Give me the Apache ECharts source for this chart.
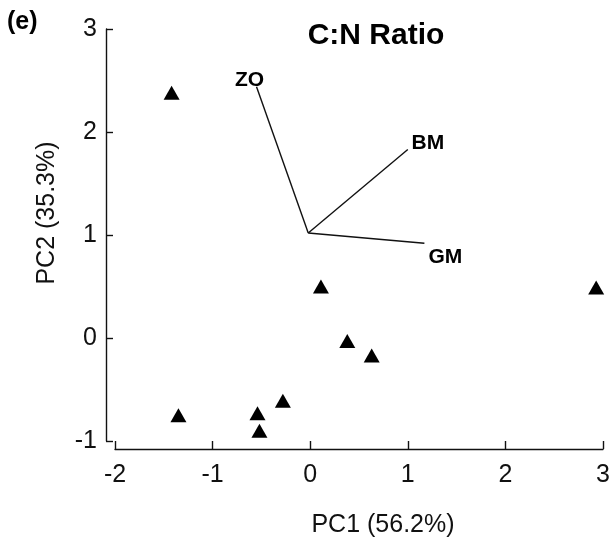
<!DOCTYPE html>
<html>
<head>
<meta charset="utf-8">
<script src="https://cdn.jsdelivr.net/npm/echarts@6/dist/echarts.min.js"></script>
<style>
  html, body { margin: 0; padding: 0; background: #fff; }
  #chart { width: 614px; height: 539px; }
</style>
</head>
<body>
<div id="chart"></div>
<script>
// PCA scores (PC1, PC2) for the samples
const sampleScores = [
  [-1.42, 2.38],
  [0.11, 0.50],
  [2.93, 0.49],
  [0.38, -0.03],
  [0.63, -0.17],
  [-1.35, -0.75],
  [-0.54, -0.73],
  [-0.52, -0.90],
  [-0.28, -0.61]
];

// Loading vectors: shared origin and the tip of each variable
const vectorOrigin = [-0.02, 1.02];
const vectorNames = ['ZO', 'BM', 'GM'];
const vectorTips = [
  [-0.55, 2.44],
  [1.00, 1.83],
  [1.17, 0.92]
];

// Axis tick values
const xTicks = [-2, -1, 0, 1, 2, 3];
const yTicks = [-1, 0, 1, 2, 3];

const FONT = "'Liberation Sans', Arial, sans-serif";
const INK = '#111';

// Label placement for each vector tip
const tipLabelOffsets = {
  ZO: [-7, -6],
  BM: [20, -6],
  GM: [21, 14]
};

const vectorSeries = vectorNames.map((name, i) => ({
  type: 'line',
  name: name,
  silent: true,
  symbol: 'none',
  lineStyle: { color: INK, width: 1.4 },
  data: [vectorOrigin, vectorTips[i]],
  z: 2
}));

// Names drawn at the vector tips
const tipLabelSeries = {
  type: 'scatter',
  name: 'Variables',
  silent: true,
  symbolSize: 0,
  itemStyle: { color: '#000', opacity: 1 },
  data: vectorNames.map((name, i) => ({
    name: name,
    value: vectorTips[i],
    label: { offset: tipLabelOffsets[name] }
  })),
  label: {
    show: true,
    position: 'inside',
    formatter: (p) => p.name,
    color: '#000',
    opacity: 1,
    textBorderWidth: 0,
    fontFamily: FONT,
    fontWeight: 'bold',
    fontSize: 21
  },
  z: 4
};

const chart = echarts.init(document.getElementById('chart'), null, { renderer: 'canvas' });

chart.setOption({
  backgroundColor: '#fff',
  animation: false,
  grid: { left: 115, right: 11, top: 29, bottom: 98, containLabel: false },
  xAxis: {
    type: 'value',
    min: xTicks[0],
    max: xTicks[xTicks.length - 1],
    interval: 1,
    offset: 8,
    axisLine: { show: true, onZero: false, lineStyle: { color: INK, width: 1.4 } },
    axisTick: { show: true, inside: true, length: 8, lineStyle: { color: INK, width: 1.4 } },
    axisLabel: { color: INK, fontFamily: FONT, fontSize: 25, margin: 14 },
    splitLine: { show: false }
  },
  yAxis: {
    type: 'value',
    min: yTicks[0],
    max: yTicks[yTicks.length - 1],
    interval: 1,
    offset: 9,
    axisLine: { show: true, onZero: false, lineStyle: { color: INK, width: 1.4 } },
    axisTick: { show: true, inside: true, length: 7, lineStyle: { color: INK, width: 1.4 } },
    axisLabel: { color: INK, fontFamily: FONT, fontSize: 25, margin: 9, padding: [6, 0, 0, 0] },
    splitLine: { show: false }
  },
  graphic: [
    {
      type: 'text', left: 7, top: 10,
      style: { text: '(e)', fill: '#000', font: "bold 25px " + FONT }
    },
    {
      type: 'text', x: 376, y: 36,
      style: { text: 'C:N Ratio', fill: '#000', font: "bold 30px " + FONT, align: 'center', verticalAlign: 'middle' }
    },
    {
      type: 'text', x: 383, y: 525,
      style: { text: 'PC1 (56.2%)', fill: INK, font: "25px " + FONT, align: 'center', verticalAlign: 'middle' }
    },
    {
      type: 'text', x: 47, y: 213, rotation: Math.PI / 2,
      style: { text: 'PC2 (35.3%)', fill: INK, font: "25px " + FONT, align: 'center', verticalAlign: 'middle' }
    }
  ],
  series: [
    ...vectorSeries,
    tipLabelSeries,
    {
      type: 'scatter',
      name: 'Samples',
      symbol: 'triangle',
      symbolSize: [16, 14],
      itemStyle: { color: '#000', opacity: 1 },
      data: sampleScores,
      z: 3
    }
  ]
});
</script>
</body>
</html>
